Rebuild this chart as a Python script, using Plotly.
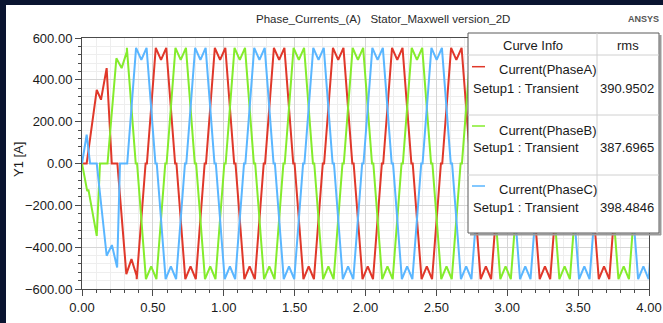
import plotly.graph_objects as go

# ---------------- data ----------------
period = 0.4167  # time between successive positive peaks of one phase

# one steady-state cycle, phase angle (deg) relative to the positive-peak centre, and current (A)
cycle_deg = [-180, -148, -94, -86, -32, 0, 32, 86, 94, 148]
cycle_amp = [-492, -553, 0, 0, 553, 495, 553, 0, 0, -553]

# centres of the positive peaks of every phase
peaks_A = [0.1407, 0.5574, 0.9741, 1.3908, 1.8075, 2.2242, 2.6409, 3.0576, 3.4743, 3.8910, 4.3077]
peaks_B = [0.2796, 0.6963, 1.1130, 1.5297, 1.9464, 2.3631, 2.7798, 3.1965, 3.6132, 4.0299]
peaks_C = [0.4185, 0.8352, 1.2519, 1.6686, 2.0853, 2.5020, 2.9187, 3.3354, 3.7521, 4.1688]

# start-up transient (before the steady cycles take over)
start_t_A = [0.0, 0.033, 0.104, 0.134, 0.174, 0.210, 0.2495, 0.3128, 0.349, 0.3853]
start_i_A = [0, 0, 352, 305, 456, 0, 0, -529, -457, -537]
start_t_B = [0.0, 0.037, 0.045, 0.104, 0.127, 0.180, 0.2426, 0.2796, 0.3166]
start_i_B = [0, -132, -124, -346, 0, 0, 503, 456, 535]
start_t_C = [0.0, 0.033, 0.057, 0.104, 0.174, 0.211, 0.248, 0.268]
start_i_C = [0, 138, 0, 0, -441, -390, -497, 0]

curve_names = ["Current(PhaseA)", "Current(PhaseB)", "Current(PhaseC)"]
setup_label = "Setup1 : Transient"
rms_values = ["390.9502", "387.6965", "398.4846"]
colors = ["#e0382a", "#84ec2c", "#5ab6ff"]

x_ticks = [0.0, 0.5, 1.0, 1.5, 2.0, 2.5, 3.0, 3.5, 4.0]
y_ticks = [-600, -400, -200, 0, 200, 400, 600]

title_text = "Phase_Currents_(A)\u00a0\u00a0\u00a0Stator_Maxwell version_2D"


def build(peaks, st, si):
    ts, vs = list(st), list(si)
    cut = st[-1]
    pts = []
    for p in peaks:
        for d, a in zip(cycle_deg, cycle_amp):
            t = p + d / 360.0 * period
            if t > cut + 1e-9 and t <= 4.3:
                pts.append((t, a))
    pts.sort()
    ts += [p[0] for p in pts]
    vs += [p[1] for p in pts]
    return ts, vs


series = [build(peaks_A, start_t_A, start_i_A),
          build(peaks_B, start_t_B, start_i_B),
          build(peaks_C, start_t_C, start_i_C)]

W, H = 663, 323
L, R, T_, B = 82, 649, 38, 289  # plot area in pixels


def px(x):
    return (x - L) / (R - L)


def py(y):
    return (B - y) / (B - T_)


fig = go.Figure()
for (ts, vs), c, n in zip(series, colors, curve_names):
    fig.add_trace(go.Scatter(x=ts, y=vs, mode="lines", name=n,
                             line=dict(color=c, width=2), showlegend=False))

font = "Liberation Sans, Arial, sans-serif"
axis_common = dict(showline=True, linecolor="#4a4a4a", linewidth=1, mirror=True,
                   ticks="outside", ticklen=6, tickcolor="#4a4a4a", tickwidth=1,
                   showgrid=True, gridcolor="#d6d6d6", gridwidth=1, zeroline=False,
                   automargin=False,
                   tickfont=dict(family=font, size=13, color="#1a1a1a"))

fig.update_xaxes(range=[0, 4], tickvals=x_ticks, tickformat=".2f",
                 minor=dict(dtick=0.1, ticklen=3, tickcolor="#4a4a4a",
                            showgrid=True, gridcolor="#eeeeee"),
                 **axis_common)
fig.update_yaxes(range=[-600, 600], tickvals=y_ticks, tickformat=".2f",
                 minor=dict(dtick=40, ticklen=3, tickcolor="#4a4a4a",
                            showgrid=True, gridcolor="#eeeeee"),
                 **axis_common)

shapes = []
navy = "#0a1430"
# dark frame strips (left and top)
shapes.append(dict(type="rect", xref="paper", yref="paper", x0=px(-2), x1=px(6), y0=py(W), y1=py(-2),
                   fillcolor=navy, line=dict(width=0), layer="below"))
shapes.append(dict(type="rect", xref="paper", yref="paper", x0=px(-2), x1=px(W + 5), y0=py(5), y1=py(-5),
                   fillcolor=navy, line=dict(width=0), layer="below"))

# legend table
lx0, lx1, ly0, ly1 = 468, 659, 33, 233
shapes.append(dict(type="line", xref="paper", yref="paper", x0=px(lx0 + 2), x1=px(lx1 + 2),
                   y0=py(ly1 + 1.5), y1=py(ly1 + 1.5), line=dict(color="#9a9a9a", width=2), layer="above"))
shapes.append(dict(type="line", xref="paper", yref="paper", x0=px(lx1 + 1.5), x1=px(lx1 + 1.5),
                   y0=py(ly0 + 2), y1=py(ly1 + 2), line=dict(color="#9a9a9a", width=2), layer="above"))
shapes.append(dict(type="rect", xref="paper", yref="paper", x0=px(lx0), x1=px(lx1), y0=py(ly1), y1=py(ly0),
                   fillcolor="white", line=dict(color="#5a5a5a", width=1), layer="above"))
for yy in [55, 115, 175]:
    shapes.append(dict(type="line", xref="paper", yref="paper", x0=px(lx0), x1=px(lx1),
                       y0=py(yy), y1=py(yy), line=dict(color="#d0d0d0", width=1), layer="above"))
shapes.append(dict(type="line", xref="paper", yref="paper", x0=px(597), x1=px(597),
                   y0=py(ly0), y1=py(ly1), line=dict(color="#d0d0d0", width=1), layer="above"))

row_line_y = [66.7, 126, 186]
row_name_y = [69.3, 130, 189.3]
row_setup_y = [88.3, 147.7, 207.3]
for c, yy in zip(colors, row_line_y):
    shapes.append(dict(type="line", xref="paper", yref="paper", x0=px(472), x1=px(485),
                       y0=py(yy), y1=py(yy), line=dict(color=c, width=1.5), layer="above"))

ann = []
lf = dict(family=font, size=13, color="#1a1a1a")
ann.append(dict(x=px(532.7), y=py(46), text="Curve Info", showarrow=False, xref="paper", yref="paper",
                xanchor="center", yanchor="middle", font=lf))
ann.append(dict(x=px(627.7), y=py(46), text="rms", showarrow=False, xref="paper", yref="paper",
                xanchor="center", yanchor="middle", font=lf))
for n, v, yn, ys in zip(curve_names, rms_values, row_name_y, row_setup_y):
    ann.append(dict(x=px(497), y=py(yn), text=n, showarrow=False, xref="paper", yref="paper",
                    xanchor="left", yanchor="middle", font=lf))
    ann.append(dict(x=px(471), y=py(ys), text=setup_label, showarrow=False, xref="paper", yref="paper",
                    xanchor="left", yanchor="middle", font=lf))
    ann.append(dict(x=px(656), y=py(ys), text=v, showarrow=False, xref="paper", yref="paper",
                    xanchor="right", yanchor="middle", font=lf))

ann.append(dict(x=px(383), y=py(19), text=title_text, showarrow=False, xref="paper", yref="paper",
                xanchor="center", yanchor="middle", font=dict(family=font, size=11.5, color="#2a2a2a")))
ann.append(dict(x=px(661), y=py(19), text="<b>ANSYS</b>", showarrow=False, xref="paper", yref="paper",
                xanchor="right", yanchor="middle", font=dict(family=font, size=9, color="#555555")))
ann.append(dict(x=px(18), y=py(160), text="Y1 [A]", textangle=-90, showarrow=False, xref="paper",
                yref="paper", xanchor="center", yanchor="middle", font=dict(family=font, size=13, color="#1a1a1a")))

fig.update_layout(width=W, height=H, margin=dict(l=L, r=W - R, t=T_, b=H - B),
                  paper_bgcolor="white", plot_bgcolor="white", hovermode=False,
                  shapes=shapes, annotations=ann, showlegend=False)

# the page's default 8px body margin would shift the whole figure; remove it
fig.write_html("out.html",
               config={"displayModeBar": False, "staticPlot": True},
               post_script="document.body.style.margin='0px';document.body.style.overflow='hidden';")
